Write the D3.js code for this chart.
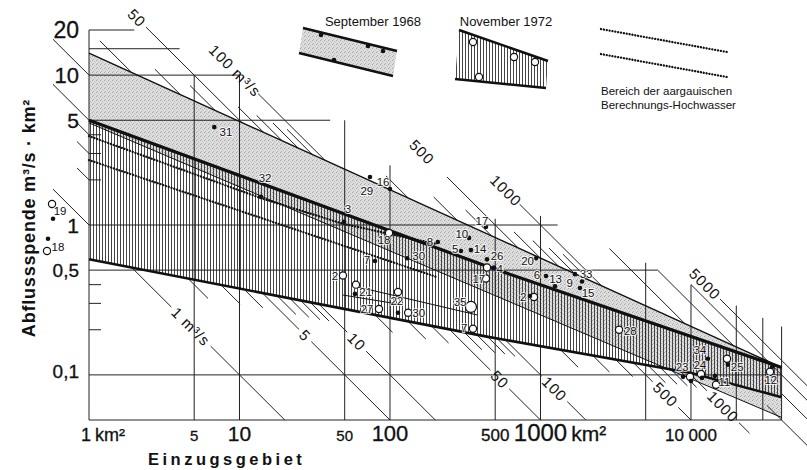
<!DOCTYPE html>
<html>
<head>
<meta charset="utf-8">
<script src="https://cdnjs.cloudflare.com/ajax/libs/d3/7.8.5/d3.min.js"></script>
<style>
  body { margin: 0; background: #fff; }
  svg { display: block; }
  text { font-family: "Liberation Sans", Arial, sans-serif; fill: #111; }
</style>
</head>
<body>
<svg id="chart" width="807" height="470"></svg>
<script>
// band edges, [Einzugsgebiet km², Abflussspende m³/s·km²]
const sep68Top = [[1, 14], [40000, 0.112]];
const sep68Bottom = [[1, 4.8], [40000, 0.052]];
const nov72Top = [[1, 5], [440, 0.53], [40000, 0.112]];
const nov72Bottom = [[1, 0.59], [440, 0.18], [10000, 0.103], [40000, 0.071]];
// aargauische Berechnungs-Hochwasser
const calcHigh = [[1, 3.92], [13.9, 1.51], [48.6, 1.02], [199, 0.75]];
const calcLow = [[1, 2.71], [204, 0.45]];

// stations [nr, km², m³/s·km²]
const sep68Points = [
  ["31", 6.8, 4.5], ["32", 13.9, 1.54], ["3", 49.5, 1.05], ["29", 73.6, 2.09], ["16", 100, 1.74],
  ["8", 208, 0.77], ["10", 335, 0.82], ["17", 434, 0.97], ["5", 296, 0.67], ["14", 345, 0.68],
  ["7", 79.5, 0.575], ["30", 130, 0.6], ["26", 441, 0.59], ["4", 491, 0.52], ["20", 933, 0.6],
  ["6", 1088, 0.457], ["13", 1248, 0.39], ["9", 1695, 0.47], ["33", 1888, 0.42], ["15", 1830, 0.38],
  ["21", 58.5, 0.347], ["22", 113, 0.26], ["2", 851, 0.336], ["34", 12970, 0.128], ["25", 17600, 0.117],
  ["23", 10000, 0.091], ["23", 8850, 0.097], ["24", 11830, 0.0955], ["11", 14430, 0.0985],
  ["12", 34550, 0.113], ["19", 0.577, 1.1], ["18", 0.534, 0.81]
];
const nov72Points = [
  ["19", 0.568, 1.38], ["18", 0.526, 0.67], ["18", 98.5, 0.885], ["4", 441, 0.52], ["17", 434, 0.44],
  ["2", 48.7, 0.46], ["21", 59.4, 0.4], ["22", 113, 0.357], ["30", 132, 0.26], ["27", 84.5, 0.275],
  ["35", 345, 0.284], ["7", 356, 0.203], ["2", 905, 0.331], ["28", 3325, 0.2], ["25", 17350, 0.128],
  ["23", 9850, 0.097], ["24", 11650, 0.1015], ["11", 14660, 0.086], ["12", 33500, 0.105]
];
const bigMarks = ["35"];
const stationLabels = [
  ["31", 8.13, 4.17], ["32", 14.8, 2.06], ["3", 52.6, 1.28], ["29", 70.2, 1.69], ["16", 89.9, 1.93],
  ["18", 91.4, 0.794], ["8", 184, 0.77], ["10", 300, 0.871], ["17", 408, 1.06], ["5", 271, 0.692],
  ["14", 397, 0.692], ["7", 70.2, 0.584], ["30", 155, 0.621], ["26", 515, 0.625], ["4", 536, 0.51],
  ["17", 389, 0.437], ["2", 43.1, 0.457], ["21", 69, 0.358], ["22", 111, 0.311], ["27", 70.2, 0.275],
  ["30", 155, 0.259], ["35", 292, 0.307], ["7", 311, 0.206], ["20", 821, 0.575], ["6", 946, 0.464],
  ["13", 1260, 0.437], ["9", 1565, 0.41], ["33", 2010, 0.471], ["15", 2070, 0.352], ["2", 767, 0.331],
  ["28", 3950, 0.196], ["34", 11450, 0.146], ["24", 11450, 0.117], ["25", 20300, 0.113],
  ["23", 8720, 0.113], ["11", 16700, 0.0898], ["12", 33900, 0.0927], ["19", 0.642, 1.24], ["18", 0.622, 0.713]
];
const stationRanges = [[[61, 0.386], [380, 0.251]], [[48.6, 0.341], [111, 0.298]]];

// grid: [km², spende where the line starts] and [spende, km² where the line ends]
const areaGrid = [[1, 20], [5, 10], [10, 10], [50, 5], [100, 2.5], [500, 1.1], [1000, 1.15],
  [5000, 0.56], [10000, 0.4], [20000, 0.29], [30000, 0.24], [40000, 0.21]];
const spendeGrid = [[20, 2], [15, 4], [10, 10], [5, 40], [1, 1300], [0.5, 6000], [0.1, 40000], [0.05, 40000]];
const minorTicks = [4, 3, 2, 0.4, 0.3, 0.2];
const yTicks = [[20, "20"], [10, "10"], [5, "5"], [1, "1"], [0.5, "0,5"], [0.1, "0,1"]];
const xTicks = [[1, "1"], [5, "5"], [10, "10"], [50, "50"], [100, "100"], [500, "500"], [1000, "1000"], [10000, "10 000"]];

// lines of equal discharge Q (m³/s): [Q, from km², to km²]; "upper"/"lower" = where it meets the band
const dischargeLines = [
  [1, 0.576, 1], [2, 0.832, 1], [3, 0.832, 1], [4, 0.832, 1], [5, 0.576, 1], [10, 0.576, 1],
  [20, 1.18, "upper"], [30, 2.74, "upper"], [40, 4.69, "upper"], [50, 2.39, "upper"],
  [60, 9.78, "upper"], [70, 13.0, "upper"], [80, 16.7, "upper"], [90, 20.7, "upper"], [100, 13.3, "upper"],
  [200, 94, "upper"], [300, 195, "upper"], [400, 318, "upper"], [500, 239, "upper"],
  [600, 667, "upper"], [700, 890, "upper"], [800, 1140, "upper"], [900, 1410, "upper"], [1000, 727, "upper"],
  [2000, 2870, "upper"], [3000, 6000, "upper"], [4000, 10000, 59000], [5000, 15600, 59000],
  [1, "lower", 20], [2, "lower", 6.18], [3, "lower", 10.1], [4, "lower", 14.3], [5, "lower", 100],
  [6, "lower", 23.7], [7, "lower", 28.9], [8, "lower", 34.3], [9, "lower", 39.3], [10, "lower", 200],
  [20, "lower", 104], [30, "lower", 173], [40, "lower", 245], [50, "lower", 1000],
  [60, "lower", 408], [70, "lower", 497], [80, "lower", 580], [90, "lower", 677], [100, "lower", 2000],
  [200, "lower", 1780], [300, "lower", 2870], [400, "lower", 4100], [500, "lower", 10000],
  [600, "lower", 6770], [700, "lower", 8080], [800, "lower", 9460], [900, "lower", 10900], [1000, "lower", 24500],
  [2000, 31900, 59000], [3000, 40000, 59000]
];
const dischargeLabels = [
  [50, "50", 2.08], [100, "100 m³/s", 9.35], [500, "500", 163], [1000, "1000", 590], [5000, "5000", 12400],
  [1, "1 m³/s", 4.76], [5, "5", 27.3], [10, "10", 60.1], [50, "50", 537], [100, "100", 1240],
  [500, "500", 6770], [1000, "1000", 16300]
];

const svg = d3.select("#chart");
const x = d3.scaleLog().domain([1, 40000]).range([89, 781.6]);
const y = d3.scaleLog().domain([0.05, 20]).range([420, 30]);
const path = d3.line().x(d => x(d[0])).y(d => y(d[1]));

// textures
const defs = svg.append("defs");
const stip = defs.append("pattern").attr("id", "stipple")
  .attr("patternUnits", "userSpaceOnUse").attr("width", 4).attr("height", 4);
stip.append("rect").attr("width", 4).attr("height", 4).attr("fill", "#dedede");
stip.selectAll("rect.dot")
  .data([[0, 0, "#a4a4a4"], [2, 1, "#bcbcbc"], [1, 3, "#b0b0b0"], [3, 2, "#c8c8c8"]])
  .join("rect").attr("class", "dot")
  .attr("x", d => d[0]).attr("y", d => d[1]).attr("width", 1).attr("height", 1).attr("fill", d => d[2]);
const hatch = defs.append("pattern").attr("id", "hatch")
  .attr("patternUnits", "userSpaceOnUse").attr("width", 3).attr("height", 6);
hatch.append("rect").attr("width", 1).attr("height", 6).attr("fill", "#444");

function band(top, bottom) { return path(top.concat(bottom.slice().reverse())) + "Z"; }
svg.append("path").attr("d", band(sep68Top, sep68Bottom)).attr("fill", "url(#stipple)");
svg.append("path").attr("d", band(nov72Top, nov72Bottom)).attr("fill", "url(#hatch)");

// grid
const grid = svg.append("g").attr("stroke", "#222").attr("stroke-width", 1);
grid.selectAll("line.v").data(areaGrid).join("line").attr("class", "v")
  .attr("x1", d => x(d[0])).attr("x2", d => x(d[0]))
  .attr("y1", d => y(d[1])).attr("y2", y(0.05));
grid.selectAll("line.h").data(spendeGrid).join("line").attr("class", "h")
  .attr("x1", x(1)).attr("x2", d => x(d[1]))
  .attr("y1", d => y(d[0])).attr("y2", d => y(d[0]));
grid.selectAll("line.m").data(minorTicks).join("line").attr("class", "m")
  .attr("x1", x(1)).attr("x2", x(1) + 12)
  .attr("y1", d => y(d)).attr("y2", d => y(d));

// discharge lines
function logSpende(poly, A) {
  const a = Math.log10(A);
  for (let i = 0; i < poly.length - 1; i++) {
    const a0 = Math.log10(poly[i][0]), a1 = Math.log10(poly[i + 1][0]);
    if (a <= a1 || i === poly.length - 2) {
      const t = (a - a0) / (a1 - a0);
      const q0 = Math.log10(poly[i][1]), q1 = Math.log10(poly[i + 1][1]);
      return q0 + t * (q1 - q0);
    }
  }
}
function meet(poly, Q) {
  let lo = 0, hi = Math.log10(poly[poly.length - 1][0]);
  for (let k = 0; k < 40; k++) {
    const m = (lo + hi) / 2;
    if (logSpende(poly, Math.pow(10, m)) - Math.log10(Q) + m > 0) hi = m; else lo = m;
  }
  return Math.pow(10, lo);
}
function resolve(v, Q) {
  if (v === "upper") return meet(sep68Top, Q);
  if (v === "lower") return meet(nov72Bottom, Q);
  return v;
}

const diagLines = svg.append("g").attr("stroke", "#222").attr("stroke-width", 1);
const diagText = svg.append("g");
const gaps = [];
dischargeLabels.forEach(([Q, txt, A]) => {
  const cx = x(A), cy = y(Q / A);
  const t = diagText.append("text")
    .attr("transform", `translate(${cx},${cy}) rotate(45)`)
    .attr("text-anchor", "middle").attr("dy", "0.36em")
    .style("font-size", "15px").style("letter-spacing", "1px")
    .text(txt);
  gaps.push({ Q, cx, h: (t.node().getComputedTextLength() / 2 + 4) / Math.SQRT2 });
});
dischargeLines.forEach(([Q, from, to]) => {
  const s0 = x(resolve(from, Q)), s1 = x(resolve(to, Q));
  let segs = [[s0, s1]];
  gaps.filter(g => g.Q === Q).forEach(g => {
    segs = segs.flatMap(([s, e]) => (g.cx > s && g.cx < e) ? [[s, g.cx - g.h], [g.cx + g.h, e]] : [[s, e]]);
  });
  segs.filter(([s, e]) => e > s).forEach(([s, e]) => {
    diagLines.append("line")
      .attr("x1", s).attr("y1", y(Q / x.invert(s)))
      .attr("x2", e).attr("y2", y(Q / x.invert(e)));
  });
});

// band edges
const edges = [[sep68Bottom, 1], [sep68Top, 1.4], [nov72Bottom, 2.6], [nov72Top, 3.2]];
svg.selectAll("path.edge").data(edges).join("path").attr("class", "edge")
  .attr("d", d => path(d[0])).attr("fill", "none").attr("stroke", "#111")
  .attr("stroke-width", d => d[1]);

svg.selectAll("path.calc").data([calcHigh, calcLow]).join("path").attr("class", "calc")
  .attr("d", path).attr("fill", "none").attr("stroke", "#111").attr("stroke-width", 2.3)
  .attr("stroke-linecap", "round").attr("stroke-dasharray", "0.1 2.8");

svg.selectAll("path.range").data(stationRanges).join("path").attr("class", "range")
  .attr("d", path).attr("fill", "none").attr("stroke", "#111").attr("stroke-width", 1);

// stations
svg.selectAll("circle.open").data(nov72Points).join("circle").attr("class", "open")
  .attr("cx", d => x(d[1])).attr("cy", d => y(d[2]))
  .attr("r", d => bigMarks.includes(d[0]) ? 5.5 : 3.6)
  .attr("fill", "#fff").attr("stroke", "#111").attr("stroke-width", 1.2);
svg.selectAll("circle.full").data(sep68Points).join("circle").attr("class", "full")
  .attr("cx", d => x(d[1])).attr("cy", d => y(d[2])).attr("r", 2.3).attr("fill", "#111");
svg.selectAll("text.st").data(stationLabels).join("text").attr("class", "st")
  .attr("x", d => x(d[1])).attr("y", d => y(d[2])).attr("dy", "0.36em")
  .attr("text-anchor", "middle").style("font-size", "11.5px")
  .attr("stroke", "#fff").attr("stroke-width", 2).attr("stroke-opacity", 0.8)
  .attr("paint-order", "stroke")
  .text(d => d[0]);

// axes
const yTickSize = { "20": 23, "10": 22, "5": 21, "1": 21, "0,5": 19, "0,1": 19 };
svg.selectAll("text.yt").data(yTicks).join("text").attr("class", "yt")
  .attr("x", 79).attr("y", d => y(d[0]) + 0.36 * yTickSize[d[1]] - (d[1] === "0,1" ? 4 : 0))
  .attr("text-anchor", "end").style("font-size", d => yTickSize[d[1]] + "px")
  .attr("stroke", "#111").attr("stroke-width", 0.3)
  .text(d => d[1]);

const xTickSize = { "1": 18, "5": 15, "10": 21, "50": 15, "100": 22, "500": 17, "1000": 24, "10 000": 17 };
const xt = svg.selectAll("text.xt").data(xTicks).join("text").attr("class", "xt")
  .attr("x", d => d[1] === "1" ? x(d[0]) - 3 : x(d[0])).attr("y", 441)
  .attr("text-anchor", "middle").style("font-size", d => xTickSize[d[1]] + "px")
  .attr("stroke", "#111").attr("stroke-width", 0.3)
  .text(d => d[1]);
xt.filter(d => d[1] === "1" || d[1] === "1000").each(function (d) {
  const w = this.getComputedTextLength();
  const size = d[1] === "1" ? 18 : 21;
  svg.append("text").attr("x", +d3.select(this).attr("x") + w / 2 + 4).attr("y", 441)
    .style("font-size", size + "px").attr("stroke", "#111").attr("stroke-width", 0.3).text("km²");
});

svg.append("text").attr("x", 148).attr("y", 465)
  .style("font-size", "16.5px").style("font-weight", "bold").style("letter-spacing", "3.5px")
  .text("Einzugsgebiet");
svg.append("text").attr("transform", "translate(35,218) rotate(-90)")
  .attr("text-anchor", "middle")
  .style("font-size", "18px").style("font-weight", "bold").style("letter-spacing", "0.8px")
  .text("Abflussspende  m³/s · km²");

// legend
const lg = svg.append("g");
lg.append("text").attr("x", 373).attr("y", 26).attr("text-anchor", "middle").style("font-size", "13px").text("September  1968");
lg.append("path").attr("d", "M303,28 L397,51 L393,76 L299,53 Z").attr("fill", "url(#stipple)");
lg.append("path").attr("d", "M303,28 L397,51 M299,53 L393,76").attr("stroke", "#111").attr("stroke-width", 2.5);
lg.selectAll("circle.lf").data([[321, 35], [368, 46], [383, 51], [334, 60]]).join("circle").attr("class", "lf")
  .attr("cx", d => d[0]).attr("cy", d => d[1]).attr("r", 2.3).attr("fill", "#111");

lg.append("text").attr("x", 506).attr("y", 26).attr("text-anchor", "middle").style("font-size", "13px").text("November 1972");
lg.append("path").attr("d", "M459,30 L548,61 L546,88 L455,79 Z").attr("fill", "url(#hatch)");
lg.append("path").attr("d", "M459,30 L548,61 M455,79 L546,88").attr("stroke", "#111").attr("stroke-width", 2.5);
lg.selectAll("circle.lo").data([[473, 42], [514, 57], [535, 62], [479, 77]]).join("circle").attr("class", "lo")
  .attr("cx", d => d[0]).attr("cy", d => d[1]).attr("r", 3.6)
  .attr("fill", "#fff").attr("stroke", "#111").attr("stroke-width", 1.2);

lg.append("path").attr("d", "M601,29 L727,52 M601,54 L727,77")
  .attr("stroke", "#111").attr("stroke-width", 2.3).attr("stroke-linecap", "round").attr("stroke-dasharray", "0.1 2.8");
lg.append("text").attr("x", 601).attr("y", 95).style("font-size", "11.5px").text("Bereich der aargauischen");
lg.append("text").attr("x", 601).attr("y", 109).style("font-size", "11.5px").text("Berechnungs-Hochwasser");
</script>
</body>
</html>
